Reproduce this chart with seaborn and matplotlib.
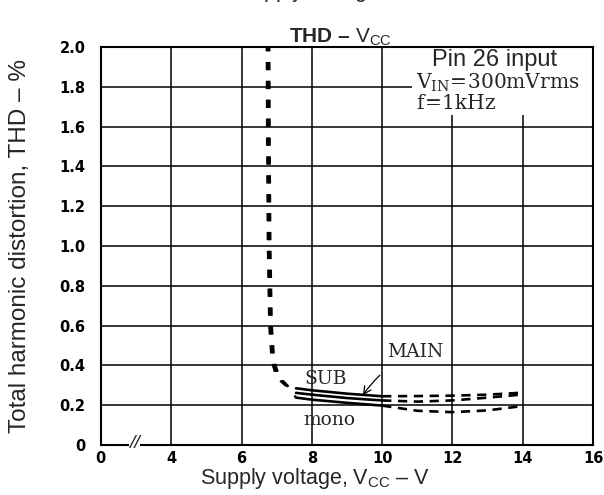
import numpy as np
import matplotlib
matplotlib.use("Agg")
import matplotlib.pyplot as plt
import pandas as pd
import seaborn as sns
from matplotlib.patches import Rectangle

# x axis is broken: the "0" tick sits where 2 V would be
x_ticks = [2, 4, 6, 8, 10, 12, 14, 16]
x_ticklabels = ["0", "4", "6", "8", "10", "12", "14", "16"]
y_ticks = [0, 0.2, 0.4, 0.6, 0.8, 1.0, 1.2, 1.4, 1.6, 1.8, 2.0]
y_ticklabels = ["0", "0.2", "0.4", "0.6", "0.8", "1.0", "1.2", "1.4", "1.6", "1.8", "2.0"]

# steep (dashed) knee near 6.8 V
steep_y = [2.02, 1.5, 1.0, 0.6, 0.42, 0.34, 0.30]
sub_steep_x = [6.72, 6.73, 6.75, 6.79, 6.86, 7.0, 7.25]
main_steep_x = [6.76, 6.77, 6.79, 6.83, 6.9, 7.04, 7.28]
mono_steep_x = [6.79, 6.80, 6.82, 6.86, 6.93, 7.08, 7.3]

# solid part 7.55 .. 10 V
solid_x = [7.55, 8, 9, 10]
sub_solid = [0.285, 0.275, 0.258, 0.245]
main_solid = [0.262, 0.253, 0.236, 0.224]
mono_solid = [0.238, 0.228, 0.212, 0.198]

# dashed part 10 .. 14 V
dash_x = [10, 11, 12, 13, 14]
sub_dash = [0.245, 0.246, 0.248, 0.253, 0.263]
main_dash = [0.224, 0.218, 0.224, 0.238, 0.254]
mono_dash = [0.198, 0.172, 0.165, 0.174, 0.196]

sns.set_theme(style="white")
plt.rcParams["font.family"] = ["Liberation Sans", "DejaVu Sans"]
plt.rcParams["mathtext.fontset"] = "custom"
plt.rcParams["mathtext.rm"] = "DejaVu Serif"
plt.rcParams["mathtext.sf"] = "Liberation Sans"

fig = plt.figure(figsize=(6.04, 4.95), dpi=100)
ax = fig.add_axes([0.167, 0.101, 0.815, 0.804])

curves = {
    "SUB": (sub_steep_x, sub_solid, sub_dash),
    "MAIN": (main_steep_x, main_solid, main_dash),
    "mono": (mono_steep_x, mono_solid, mono_dash),
}
for name, (sx, sol, dsh) in curves.items():
    steep = pd.DataFrame({"x": sx + [solid_x[0]], "y": steep_y + [sol[0]]})
    solid = pd.DataFrame({"x": solid_x, "y": sol})
    dashed = pd.DataFrame({"x": dash_x, "y": dsh})
    sns.lineplot(data=steep, x="x", y="y", ax=ax, color="black", lw=1.7,
                 estimator=None, sort=False, linestyle=(0, (3.5, 4.5)), zorder=3)
    sns.lineplot(data=solid, x="x", y="y", ax=ax, color="black", lw=1.9,
                 estimator=None, sort=False, zorder=3)
    sns.lineplot(data=dashed, x="x", y="y", ax=ax, color="black", lw=1.9,
                 estimator=None, sort=False, linestyle=(0, (3.5, 2.5)), zorder=3)

ax.set_xlim(2, 16)
ax.set_ylim(0, 2.0)
ax.set_xticks(x_ticks)
ax.set_xticklabels(x_ticklabels)
ax.set_yticks(y_ticks)
ax.set_yticklabels(y_ticklabels)
ax.grid(True, color="black", lw=1.1)
ax.set_axisbelow(True)
for s in ax.spines.values():
    s.set_color("black")
    s.set_linewidth(1.5)
    s.set_zorder(5)
ax.tick_params(length=0, labelsize=10.5, colors="black")
ax.tick_params(axis="y", pad=11)
ax.tick_params(axis="x", pad=4)
for lab in ax.get_xticklabels() + ax.get_yticklabels():
    lab.set_fontfamily("DejaVu Sans")
    lab.set_fontweight("bold")

ax.set_xlabel(r"Supply voltage, $\mathsf{V_{CC}}$ – V", fontsize=15.5)
ax.xaxis.set_label_coords(0.435, -0.053)
ax.set_ylabel("Total harmonic distortion, THD – %", fontsize=17.5)
ax.yaxis.set_label_coords(-0.142, 0.5)
ax.set_title(r"THD – $\mathsf{V_{CC}}$", fontsize=15, fontweight="bold", pad=3, x=0.486)

# cut-off heading of the page above
fig.text(0.55, 1.006, r"Supply voltage, $\mathsf{V_{CC}}$", fontsize=15.5,
         ha="center", va="baseline")

# axis break mark
ax.text(2.95, 0.01, "//", fontsize=14, ha="center", va="center",
        fontstyle="italic", clip_on=False, zorder=6,
        bbox=dict(fc="white", ec="none", pad=0.3))

# condition box
ax.add_patch(Rectangle((0.633, 0.83), 0.366, 0.168, transform=ax.transAxes,
                       fc="white", ec="none", zorder=2))
ax.text(13.2, 1.935, "Pin 26 input", fontsize=17, ha="center", va="center", zorder=4)
ax.text(10.95, 1.82, r"$\mathrm{V_{IN}\!=\!300mVrms}$", fontsize=14.5,
        ha="left", va="center", zorder=4)
ax.text(10.95, 1.715, r"$\mathrm{f\!=\!1kHz}$", fontsize=14.5,
        ha="left", va="center", zorder=4)

serif = ["DejaVu Serif"]
ax.text(8.4, 0.33, "SUB", fontsize=13.5, family=serif, ha="center", va="center", zorder=4)
ax.text(8.5, 0.125, "mono", fontsize=13.5, family=serif, ha="center", va="center", zorder=4)
ax.annotate("MAIN", xy=(9.45, 0.25), xytext=(10.95, 0.465), fontsize=13.5,
            family=serif, ha="center", va="center", zorder=4,
            arrowprops=dict(arrowstyle="->", color="black", lw=0.9,
                            connectionstyle="arc3,rad=0.15",
                            shrinkA=12, shrinkB=0))

fig.savefig("out.png", dpi=100)
